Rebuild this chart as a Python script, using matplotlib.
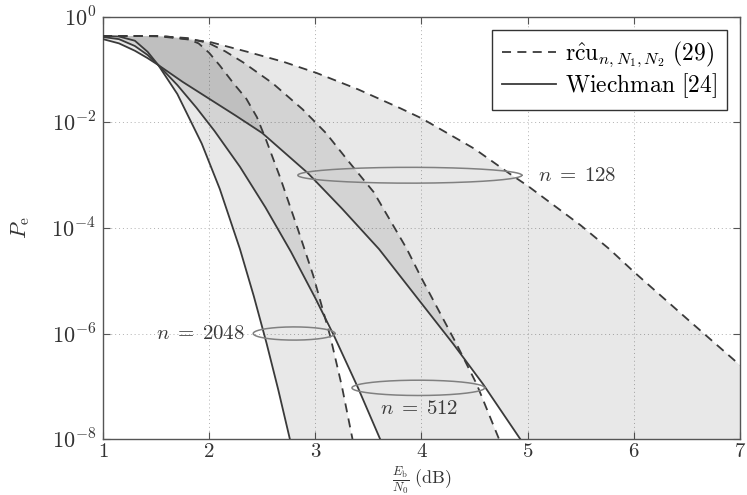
import numpy as np
import matplotlib
matplotlib.use('Agg')
import matplotlib.pyplot as plt
from matplotlib.ticker import FixedLocator, FuncFormatter, NullLocator

plt.rcParams['mathtext.fontset'] = 'cm'
plt.rcParams['font.family'] = 'serif'
plt.rcParams['font.serif'] = ['DejaVu Serif']

# Eb/N0 (dB) y log10(Pe) leidos de la figura
# rcu_{n,N1,N2} (29) -> discontinua
rcu2048_x = [1.0, 1.3, 1.6, 1.8, 1.9, 2.0, 2.1, 2.23, 2.35, 2.45, 2.54, 2.67, 2.84, 2.98, 3.14, 3.25, 3.35]
rcu2048_y = [-0.36, -0.36, -0.37, -0.42, -0.5, -0.68, -0.92, -1.26, -1.55, -1.9, -2.35, -3.05, -4.05, -4.9, -6.05, -7.0, -8.0]
rcu512_x = [1.0, 1.5, 1.8, 2.0, 2.15, 2.32, 2.6, 2.88, 3.1, 3.33, 3.55, 3.86, 4.0, 4.33, 4.52, 4.73]
rcu512_y = [-0.36, -0.36, -0.4, -0.5, -0.65, -0.86, -1.26, -1.75, -2.2, -2.78, -3.32, -4.39, -4.95, -6.2, -6.96, -8.0]
rcu128_x = [1.0, 1.5, 2.0, 2.36, 2.7, 3.01, 3.4, 3.8, 4.0, 4.5, 4.83, 5.0, 5.5, 5.77, 6.0, 6.5, 7.0]
rcu128_y = [-0.36, -0.36, -0.47, -0.66, -0.85, -1.06, -1.37, -1.73, -1.92, -2.5, -2.97, -3.2, -3.95, -4.4, -4.83, -5.72, -6.6]

# Wiechman [24] -> continua
wie2048_x = [1.0, 1.15, 1.3, 1.42, 1.52, 1.7, 1.93, 2.1, 2.29, 2.42, 2.54, 2.65, 2.76]
wie2048_y = [-0.36, -0.37, -0.45, -0.66, -0.91, -1.46, -2.4, -3.26, -4.4, -5.29, -6.18, -7.06, -8.0]
wie512_x = [1.0, 1.15, 1.3, 1.42, 1.52, 1.7, 1.88, 2.05, 2.29, 2.53, 2.77, 3.0, 3.18, 3.4, 3.61]
wie512_y = [-0.38, -0.42, -0.55, -0.72, -0.91, -1.29, -1.72, -2.16, -2.84, -3.61, -4.45, -5.33, -6.06, -7.02, -8.0]
wie128_x = [1.0, 1.15, 1.3, 1.42, 1.52, 1.75, 2.0, 2.25, 2.5, 2.93, 3.25, 3.6, 3.95, 4.3, 4.58, 4.93]
wie128_y = [-0.42, -0.5, -0.64, -0.78, -0.91, -1.23, -1.55, -1.87, -2.2, -2.96, -3.63, -4.4, -5.3, -6.2, -6.96, -8.0]

# elipses: centro x, centro log10(Pe), ancho (dB), alto (decadas)
elipses = {'128': (3.89, -3.0, 2.11, 0.30),
           '512': (3.97, -7.03, 1.25, 0.29),
           '2048': (2.80, -6.0, 0.77, 0.25)}

xmin, xmax = 1, 7
ymin, ymax = 1e-8, 1e0

fig = plt.figure(figsize=(7.47, 4.95), dpi=100)
ax = fig.add_axes([0.1379, 0.1131, 0.8527, 0.8526])
ax.set_yscale('log')

col = '#3a3a3a'
pares = [(wie2048_x, wie2048_y, rcu2048_x, rcu2048_y),
         (wie512_x, wie512_y, rcu512_x, rcu512_y),
         (wie128_x, wie128_y, rcu128_x, rcu128_y)]

# regiones sombreadas entre cotas
for sx, sy, dx, dy in pares:
    sy = 10 ** np.array(sy)
    dy = 10 ** np.array(dy)
    px = list(sx) + [dx[-1]] + list(dx[::-1])
    py = list(sy) + [ymin] + list(dy[::-1])
    ax.fill(px, py, color='black', alpha=0.09, lw=0, zorder=1)

for sx, sy, dx, dy in pares:
    ax.plot(sx, 10 ** np.array(sy), color=col, lw=1.3, zorder=3)
    ax.plot(dx, 10 ** np.array(dy), color=col, lw=1.3, ls=(0, (5, 3.5)), zorder=3)

t = np.linspace(0, 2 * np.pi, 300)
for k, (cx, cy, w, h) in elipses.items():
    ax.plot(cx + w / 2 * np.cos(t), 10 ** (cy + h / 2 * np.sin(t)), color='#808080', lw=1.1, zorder=4)

ax.text(5.1, 1e-3, r'$n\;=\;128$', fontsize=15, color='#3a3a3a', va='center', ha='left')
ax.text(2.34, 1e-6, r'$n\;=\;2048$', fontsize=15, color='#3a3a3a', va='center', ha='right')
ax.text(3.98, 10 ** -7.43, r'$n\;=\;512$', fontsize=15, color='#3a3a3a', va='center', ha='center')

# leyenda
ax.plot([], [], color=col, lw=1.3, ls=(0, (5, 3.5)), label=r'$\mathrm{r\hat{c}u}_{n,N_1,N_2}\ \mathrm{(29)}$')
ax.plot([], [], color=col, lw=1.3, label=r'$\mathrm{Wiechman\ [24]}$')
leg = ax.legend(loc='upper right', fontsize=17, fancybox=False, framealpha=1,
                edgecolor='#333333', borderaxespad=0.55, handlelength=2.3,
                handletextpad=0.4, labelspacing=0.1, borderpad=0.4)
leg.get_frame().set_linewidth(1.0)

ax.set_xlim(xmin, xmax)
ax.set_ylim(ymin, ymax)
ax.xaxis.set_major_locator(FixedLocator([1, 2, 3, 4, 5, 6, 7]))
ax.xaxis.set_major_formatter(FuncFormatter(lambda v, p: r'$%d$' % v))
ax.yaxis.set_major_locator(FixedLocator([1e-8, 1e-6, 1e-4, 1e-2, 1e0]))
ax.yaxis.set_minor_locator(NullLocator())
ax.yaxis.set_major_formatter(FuncFormatter(lambda v, p: r'$10^{%d}$' % round(np.log10(v))))
ax.tick_params(direction='in', top=True, right=True, labelsize=16, length=5,
               width=0.8, color='#555555', labelcolor='#333333', pad=5)
ax.tick_params(axis='x', pad=2, labelsize=15)
ax.grid(True, ls=(0, (1, 3)), color='#b0b0b0', lw=0.7)
ax.set_axisbelow(True)
for s in ax.spines.values():
    s.set_color('#555555')
    s.set_linewidth(1.0)

ax.set_xlabel(r'$\frac{E_\mathrm{b}}{N_0}\ \mathrm{(dB)}$', fontsize=13, color='#333333')
ax.xaxis.label.set_va('bottom')
ax.xaxis.set_label_coords(0.5, -0.136)
ax.set_ylabel(r'$P_\mathrm{e}$', fontsize=16, color='#333333', labelpad=14)

fig.savefig('out.png', dpi=100)
